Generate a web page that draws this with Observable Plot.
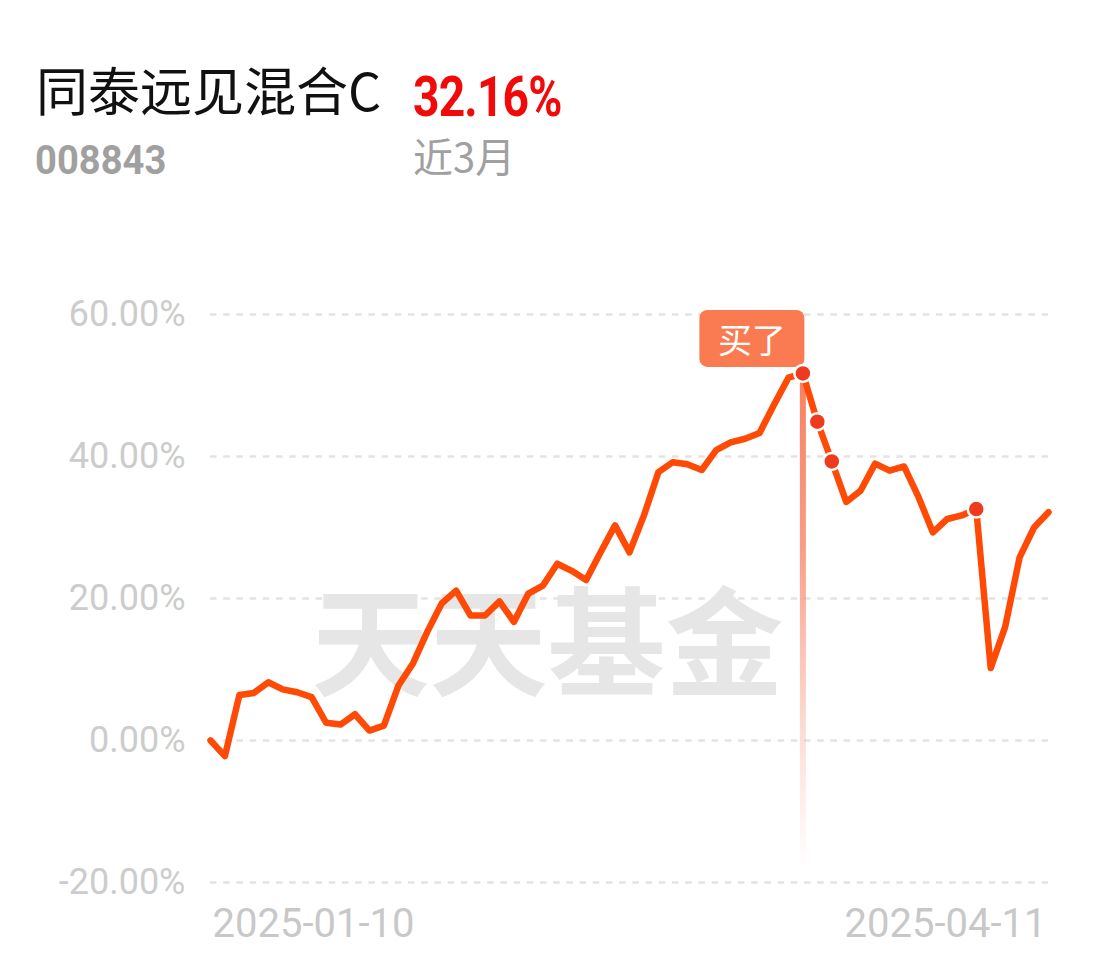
<!DOCTYPE html>
<html>
<head>
<meta charset="utf-8">
<script src="https://cdn.jsdelivr.net/npm/d3@7"></script>
<script src="https://cdn.jsdelivr.net/npm/@observablehq/plot@0.6"></script>
<style>
  html, body { margin: 0; padding: 0; background: #fff; }
  body { width: 1100px; height: 967px; overflow: hidden; font-family: Roboto, "Noto Sans CJK SC", sans-serif; }
  #header { position: relative; height: 240px; }
  .t { position: absolute; white-space: nowrap; line-height: 1; }
  #name { left: 36px; top: 63px; font-size: 52px; color: #111; font-family: "Noto Sans CJK SC", sans-serif; }
  #ret { left: 413px; top: 70px; font-size: 55px; color: #f20a0a; font-weight: 700; font-family: Roboto, sans-serif; transform: scaleX(0.84); transform-origin: left top; letter-spacing: -1px; }
  #code { left: 35px; top: 140px; font-size: 41px; color: #a0a0a0; font-weight: 700; font-family: Roboto, sans-serif; transform: scaleX(0.93); transform-origin: left top; }
  #period { left: 413px; top: 135px; font-size: 40px; color: #a0a0a0; font-family: "Noto Sans CJK SC", sans-serif; }
</style>
</head>
<body>
<div id="header">
  <div class="t" id="name">同泰远见混合C</div>
  <div class="t" id="ret">32.16%</div>
  <div class="t" id="code">008843</div>
  <div class="t" id="period">近3月</div>
</div>
<div id="chart"></div>
<script>
const dates = [
  "2025-01-10","2025-01-13","2025-01-14","2025-01-15","2025-01-16","2025-01-17",
  "2025-01-20","2025-01-21","2025-01-22","2025-01-23","2025-01-24","2025-01-27",
  "2025-02-05","2025-02-06","2025-02-07",
  "2025-02-10","2025-02-11","2025-02-12","2025-02-13","2025-02-14",
  "2025-02-17","2025-02-18","2025-02-19","2025-02-20","2025-02-21",
  "2025-02-24","2025-02-25","2025-02-26","2025-02-27","2025-02-28",
  "2025-03-03","2025-03-04","2025-03-05","2025-03-06","2025-03-07",
  "2025-03-10","2025-03-11","2025-03-12","2025-03-13","2025-03-14",
  "2025-03-17","2025-03-18","2025-03-19","2025-03-20","2025-03-21",
  "2025-03-24","2025-03-25","2025-03-26","2025-03-27","2025-03-28",
  "2025-03-31","2025-04-01","2025-04-02","2025-04-03",
  "2025-04-07","2025-04-08","2025-04-09","2025-04-10","2025-04-11"
];
const returns = [
  0.0, -2.2, 6.4, 6.7, 8.2, 7.2, 6.8, 6.1, 2.5, 2.25, 3.7, 1.4,
  2.1, 7.7, 10.8, 15.3, 19.3, 21.1, 17.6, 17.6, 19.6, 16.7, 20.7, 21.8,
  24.9, 23.9, 22.6, 26.5, 30.3, 26.5, 31.7, 37.8, 39.2, 38.9, 38.1, 40.9,
  42.0, 42.5, 43.3, 47.3, 51.1, 51.7, 44.9, 39.3, 33.6, 35.2, 39.0, 38.0,
  38.6, 34.3, 29.3, 31.2, 31.7, 32.6, 10.2, 16.0, 25.8, 30.0, 32.16
];
const yTicks = [-20, 0, 20, 40, 60];
const xTickLabels = ["2025-01-10", "2025-04-11"];
const buyDate = "2025-03-18";
const markerDates = ["2025-03-18", "2025-03-19", "2025-03-20", "2025-04-03"];
const buyLabel = "买了";
const watermark = "天天基金";

const data = dates.map((d, i) => ({date: d, value: returns[i]}));
const markers = data.filter(d => markerDates.includes(d.date));
const buy = data.find(d => d.date === buyDate);

const plot = Plot.plot({
  width: 1100,
  height: 727,
  marginTop: 74,
  marginBottom: 85,
  marginLeft: 210,
  marginRight: 52,
  style: {fontFamily: "Roboto, sans-serif", background: "transparent"},
  x: {type: "point", domain: dates, padding: 0, round: false, axis: null},
  y: {domain: [-20, 60], axis: null},
  marks: [
    Plot.ruleY(yTicks, {stroke: "#e3e3e3", strokeWidth: 2.5, strokeDasharray: "6.5,6.7"}),
    Plot.text([watermark], {frameAnchor: "middle", dx: -82, dy: 51, fontSize: 118, fontWeight: 700,
      fill: "#e6e6e6", fontFamily: "Noto Sans CJK SC", text: d => d}),
    Plot.axisY({ticks: yTicks, tickSize: 0, tickPadding: 25, fontSize: 36, color: "#cccccc", label: null,
      tickFormat: d => d.toFixed(2) + "%"}),
    Plot.text([xTickLabels[0]], {x: d => d, frameAnchor: "bottom", textAnchor: "start", dx: 2, dy: 54,
      fontSize: 40, fill: "#c8c8c8", text: d => d}),
    Plot.text([xTickLabels[1]], {x: d => d, frameAnchor: "bottom", textAnchor: "end", dx: -2, dy: 54,
      fontSize: 40, fill: "#c8c8c8", text: d => d}),
    Plot.ruleX([buy], {x: "date", y1: "value", y2: -18.6, stroke: "url(#buyGrad)", strokeWidth: 6}),
    Plot.line(data, {x: "date", y: "value", stroke: "#ff4a06", strokeWidth: 6.5,
      strokeLinejoin: "round", strokeLinecap: "round"}),
    Plot.dot(markers, {x: "date", y: "value", r: 8.5, fill: "#ee3a1e", stroke: "white", strokeWidth: 2.5})
  ]
});

// gradient for the buy rule, positioned via the plot's y scale
const ys = plot.scale("y");
const svg = d3.select(plot);
const defs = svg.insert("defs", ":first-child");
const grad = defs.append("linearGradient")
  .attr("id", "buyGrad")
  .attr("gradientUnits", "userSpaceOnUse")
  .attr("x1", 0).attr("x2", 0)
  .attr("y1", ys.apply(buy.value)).attr("y2", ys.apply(-18.6));
grad.append("stop").attr("offset", "0%").attr("stop-color", "#f7805f").attr("stop-opacity", 1);
grad.append("stop").attr("offset", "35%").attr("stop-color", "#f98b70").attr("stop-opacity", 0.85);
grad.append("stop").attr("offset", "100%").attr("stop-color", "#fbb09a").attr("stop-opacity", 0);

// "买了" label box anchored to the buy point via the plot's scales
const bx = plot.scale("x").apply(buy.date);
const by = ys.apply(buy.value);
const g = svg.append("g");
g.append("rect")
  .attr("x", bx + 2 - 105).attr("y", by - 6 - 57)
  .attr("width", 105).attr("height", 57).attr("rx", 8)
  .attr("fill", "#fa7b52");
g.append("text")
  .attr("x", bx + 2 - 52.5).attr("y", by - 6 - 28.5)
  .attr("text-anchor", "middle").attr("dominant-baseline", "central")
  .attr("fill", "white").attr("font-size", 34)
  .attr("font-family", "Noto Sans CJK SC")
  .text(buyLabel);
// keep the dots above the box
const dotGroup = svg.selectAll("circle").nodes()[0].parentNode;
svg.node().appendChild(dotGroup);

document.getElementById("chart").appendChild(plot);
</script>
</body>
</html>
